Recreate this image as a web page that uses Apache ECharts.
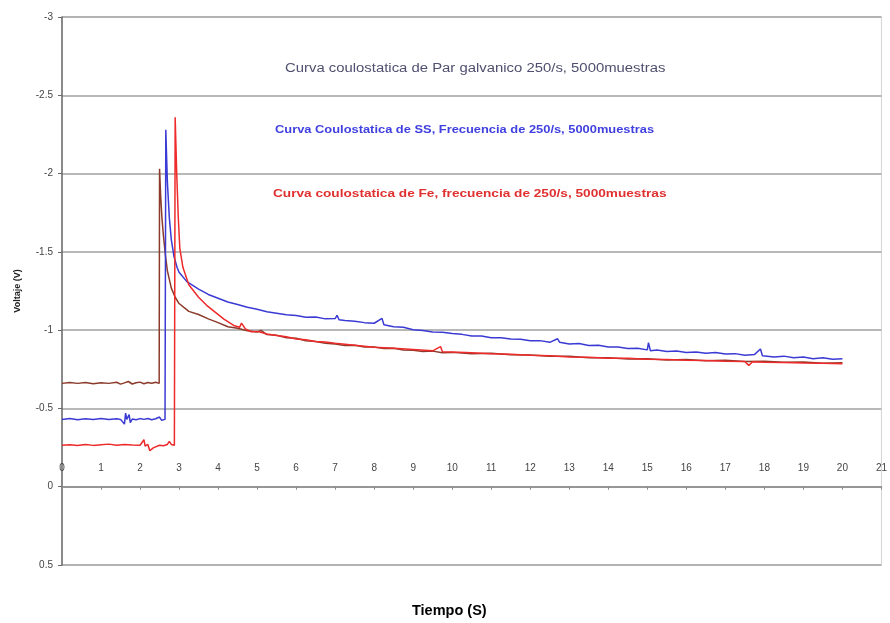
<!DOCTYPE html>
<html>
<head>
<meta charset="utf-8">
<script src="https://cdn.jsdelivr.net/npm/echarts@6/dist/echarts.min.js"></script>
<style>
  html, body { margin: 0; padding: 0; background: #fff; }
  #chart { width: 890px; height: 623px; }
</style>
</head>
<body>
<div id="chart"></div>
<script>
// Coulostatic transients: time (s) and voltage (V) per sample set

// Par galvanico
const tPar = [0, 0.2, 0.4, 0.6, 0.8, 1.0, 1.2, 1.4, 1.5, 1.6, 1.7, 1.8, 1.9, 2.0, 2.1, 2.2, 2.3, 2.4, 2.49,
  2.5, 2.53, 2.56, 2.6, 2.65, 2.7, 2.8, 2.9, 3.0, 3.25, 3.5, 3.75, 4.0, 4.25, 4.5, 4.75,
  5.0, 5.1, 5.25, 5.5, 5.75, 6.0, 6.25, 6.5, 6.75, 7.0, 7.25, 7.5, 7.75, 8.0, 8.25, 8.5, 8.75,
  9.0, 9.25, 9.5, 9.75, 10, 10.5, 11, 11.5, 12, 12.5, 13, 13.5, 14, 14.5, 15, 15.5, 16, 16.5,
  17, 17.5, 18, 18.5, 19, 19.5, 20];
const vPar = [-0.66, -0.665, -0.66, -0.665, -0.658, -0.664, -0.66, -0.667, -0.655, -0.663, -0.672, -0.656, -0.664, -0.668, -0.658, -0.665, -0.661, -0.667, -0.66,
  -2.03, -1.85, -1.72, -1.6, -1.48, -1.38, -1.27, -1.21, -1.17, -1.12, -1.10, -1.072, -1.048, -1.022, -1.012, -0.996,
  -0.988, -0.998, -0.972, -0.968, -0.952, -0.948, -0.932, -0.927, -0.916, -0.912, -0.902, -0.903, -0.892, -0.893, -0.882, -0.884, -0.873,
  -0.872, -0.864, -0.866, -0.856, -0.858, -0.85, -0.853, -0.843, -0.842, -0.833, -0.834, -0.823, -0.823, -0.815, -0.818, -0.809, -0.812, -0.804,
  -0.807, -0.799, -0.802, -0.795, -0.797, -0.789, -0.792];

// SS
const tSS = [0, 0.2, 0.4, 0.6, 0.8, 1.0, 1.2, 1.4, 1.5, 1.6, 1.63, 1.66, 1.72, 1.75, 1.8, 1.9, 2.0, 2.1, 2.2, 2.3, 2.4, 2.5, 2.55, 2.6, 2.64,
  2.66, 2.7, 2.75, 2.8, 2.87, 2.95, 3.0, 3.2, 3.5, 3.75, 4.0, 4.25, 4.5, 4.75, 5.0, 5.25, 5.5, 5.75,
  6.0, 6.25, 6.5, 6.75, 7.0, 7.05, 7.1, 7.25, 7.5, 7.75, 8.0, 8.2, 8.25, 8.3, 8.5, 8.75, 9.0, 9.25, 9.5, 9.75,
  10, 10.25, 10.5, 10.75, 11, 11.25, 11.5, 11.75, 12, 12.25, 12.5, 12.7, 12.75, 13, 13.25, 13.5, 13.75, 14, 14.25, 14.5, 14.75,
  15, 15.03, 15.08, 15.25, 15.5, 15.75, 16, 16.25, 16.5, 16.75, 17, 17.25, 17.5, 17.75, 17.9, 17.95, 18, 18.25, 18.5, 18.75,
  19, 19.25, 19.5, 19.75, 20];
const vSS = [-0.43, -0.435, -0.428, -0.434, -0.43, -0.436, -0.429, -0.434, -0.43, -0.40, -0.47, -0.43, -0.46, -0.41, -0.432, -0.428, -0.435, -0.43, -0.436, -0.428, -0.434, -0.445, -0.425, -0.436, -0.43,
  -2.28, -1.95, -1.72, -1.58, -1.47, -1.40, -1.37, -1.31, -1.262, -1.228, -1.204, -1.18, -1.164, -1.146, -1.134, -1.118, -1.108, -1.098,
  -1.094, -1.083, -1.084, -1.072, -1.074, -1.095, -1.066, -1.062, -1.057, -1.048, -1.044, -1.075, -1.034, -1.04, -1.022, -1.018, -1.003, -0.998, -0.988, -0.986,
  -0.978, -0.973, -0.962, -0.962, -0.952, -0.952, -0.943, -0.942, -0.932, -0.933, -0.922, -0.945, -0.923, -0.912, -0.914, -0.902, -0.904, -0.893, -0.893, -0.883, -0.884,
  -0.874, -0.92, -0.868, -0.873, -0.864, -0.867, -0.857, -0.861, -0.852, -0.857, -0.847, -0.85, -0.839, -0.845, -0.88, -0.836, -0.838, -0.829, -0.834, -0.823,
  -0.828, -0.818, -0.824, -0.814, -0.818];

// Fe
const tFe = [0, 0.2, 0.4, 0.6, 0.8, 1.0, 1.2, 1.4, 1.6, 1.8, 2.0, 2.1, 2.13, 2.2, 2.25, 2.3, 2.35, 2.5, 2.6, 2.7, 2.75, 2.8, 2.88,
  2.9, 2.94, 2.98, 3.02, 3.1, 3.25, 3.5, 3.7, 3.9, 4.15, 4.4, 4.55, 4.6, 4.7, 4.85, 5.0, 5.25, 5.5, 5.75, 6.0, 6.25, 6.5, 6.75,
  7.0, 7.5, 8.0, 8.5, 9.0, 9.5, 9.7, 9.75, 10, 10.5, 11, 11.5, 12, 12.5, 13, 13.5, 14, 14.5, 15, 15.5, 16, 16.5,
  17, 17.5, 17.6, 17.7, 18, 18.5, 19, 19.5, 20];
const vFe = [-0.265, -0.268, -0.263, -0.27, -0.264, -0.268, -0.272, -0.265, -0.27, -0.266, -0.265, -0.30, -0.26, -0.27, -0.23, -0.22, -0.25, -0.265, -0.262, -0.27, -0.29, -0.27, -0.265,
  -2.36, -2.0, -1.72, -1.52, -1.40, -1.29, -1.21, -1.16, -1.12, -1.07, -1.03, -1.018, -1.045, -1.008, -0.99, -0.992, -0.976, -0.966, -0.958, -0.944, -0.939, -0.928, -0.924,
  -0.916, -0.904, -0.89, -0.884, -0.876, -0.868, -0.895, -0.862, -0.861, -0.855, -0.849, -0.846, -0.839, -0.836, -0.829, -0.827, -0.821, -0.82, -0.814, -0.812, -0.808, -0.806,
  -0.802, -0.8, -0.775, -0.798, -0.795, -0.794, -0.79, -0.788, -0.786];

const seriesNames = [
  'Curva coulostatica de Par galvanico 250/s, 5000muestras',
  'Curva Coulostatica de SS, Frecuencia de 250/s, 5000muestras',
  'Curva coulostatica de Fe, frecuencia de 250/s, 5000muestras'
];
const seriesColors = ['#8b3a2a', '#3a3ad4', '#ee2a2a'];

const pairs = (t, v) => t.map((x, i) => [x, v[i]]);

const chart = echarts.init(document.getElementById('chart'));
const font = '"Liberation Sans", Arial, sans-serif';

chart.setOption({
  animation: false,
  backgroundColor: '#fff',
  grid: { left: 62, top: 17, width: 825, height: 548, show: true, borderColor: '#d4d4d4', borderWidth: 1 },
  xAxis: {
    type: 'value', min: 0, max: 21, interval: 1,
    axisLine: { onZero: true, lineStyle: { color: '#8a8a8a', width: 1.5 } },
    axisTick: { show: true, length: 3, lineStyle: { color: '#8a8a8a' } },
    // time labels sit just above the zero-volt line
    axisLabel: { inside: true, margin: 92, color: '#444', fontSize: 10, fontFamily: font },
    splitLine: { show: false }
  },
  yAxis: {
    type: 'value', min: -3, max: 0.5, interval: 0.5, inverse: true,
    name: 'Voltaje (V)', nameLocation: 'middle', nameGap: 40, nameRotate: 90,
    nameTextStyle: { fontSize: 9, fontWeight: 'bold', color: '#222', fontFamily: font },
    axisLine: { show: true, lineStyle: { color: '#6a6a6a', width: 1.5 } },
    axisTick: { show: true, length: 4, lineStyle: { color: '#6a6a6a' } },
    axisLabel: { color: '#444', fontSize: 10, margin: 9, fontFamily: font },
    splitLine: { show: true, lineStyle: { color: '#a0a0a0', width: 1.6 } }
  },
  series: [
    { name: seriesNames[0], type: 'line', data: pairs(tPar, vPar), showSymbol: false, symbol: 'none',
      lineStyle: { color: seriesColors[0], width: 1.5 }, z: 2 },
    { name: seriesNames[1], type: 'line', data: pairs(tSS, vSS), showSymbol: false, symbol: 'none',
      lineStyle: { color: seriesColors[1], width: 1.5 }, z: 3 },
    { name: seriesNames[2], type: 'line', data: pairs(tFe, vFe), showSymbol: false, symbol: 'none',
      lineStyle: { color: seriesColors[2], width: 1.5 }, z: 4 }
  ],
  graphic: [
    { type: 'text', left: 285, top: 62, scaleX: 1.19, style: { text: seriesNames[0], fill: '#4f4f6f', font: '12.5px ' + font } },
    { type: 'text', left: 275, top: 124, scaleX: 1.17, style: { text: seriesNames[1], fill: '#4040e0', font: 'bold 11px ' + font } },
    { type: 'text', left: 273, top: 188, scaleX: 1.24, style: { text: seriesNames[2], fill: '#e03030', font: 'bold 11px ' + font } },
    { type: 'text', left: 412, top: 603, style: { text: 'Tiempo (S)', fill: '#000', font: 'bold 14.5px ' + font } }
  ]
});
</script>
</body>
</html>
